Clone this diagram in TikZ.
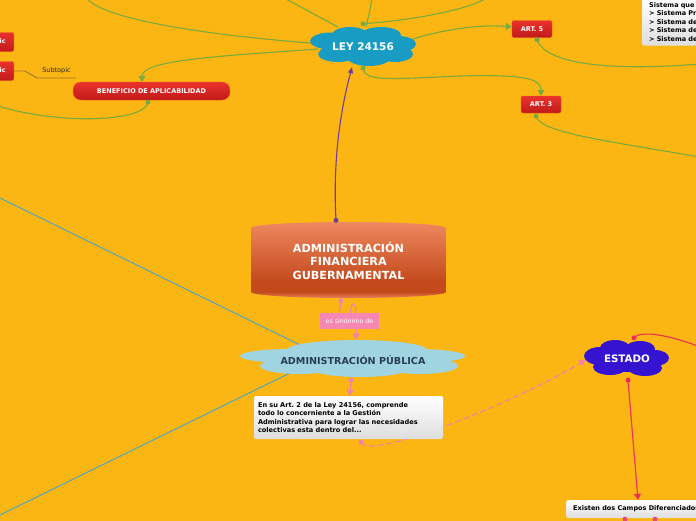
\documentclass[tikz,border=0pt]{standalone}
\usepackage{fontspec}
\setmainfont{DejaVu Sans}
\frenchspacing
\usetikzlibrary{arrows.meta,calc}
\definecolor{bgc}{RGB}{251,182,20}
\definecolor{grnc}{RGB}{122,170,60}
\definecolor{leyc}{RGB}{24,156,196}
\definecolor{apc}{RGB}{160,212,225}
\definecolor{aptext}{RGB}{40,62,82}
\definecolor{estc}{RGB}{52,20,208}
\definecolor{redtop}{RGB}{234,50,44}
\definecolor{redbot}{RGB}{192,26,26}
\definecolor{redrim}{RGB}{240,80,40}
\definecolor{purpc}{RGB}{112,60,150}
\definecolor{pinkc}{RGB}{242,130,170}
\definecolor{pinklab}{RGB}{245,135,180}
\definecolor{redln}{RGB}{232,48,88}
\definecolor{tealc}{RGB}{80,165,185}
\definecolor{subc}{RGB}{160,118,40}
\definecolor{cyltop}{RGB}{238,136,96}
\definecolor{cyldk}{RGB}{196,74,28}
\definecolor{cylrim}{RGB}{234,128,92}
\definecolor{boxbot}{RGB}{222,222,222}
\pgfdeclarelayer{bglayer}
\pgfdeclarelayer{lines}
\pgfsetlayers{bglayer,lines,main}
\pgfdeclareverticalshading{cylshade}{100bp}{color(0bp)=(cylrim); color(25bp)=(cylrim); color(29bp)=(cyldk); color(36bp)=(cyldk); color(75bp)=(cyltop); color(100bp)=(cyltop)}
\tikzset{
  grn/.style={draw=grnc, line width=1.1pt},
  tip/.style={-{Triangle[length=6pt,width=7pt]}},
  redbox/.style={rounded corners=2pt, top color=redtop, bottom color=redbot, draw=redrim, line width=0.4pt, text=white, font=\fontsize{6.5}{7.5}\selectfont\bfseries, inner sep=2pt},
  whitebox/.style={rounded corners=2pt, top color=white, bottom color=boxbot, text=black, font=\fontsize{6.6}{8.4}\selectfont\bfseries, inner sep=4pt, align=left},
  cloudlabel/.style={inner sep=0pt},
  ldot/.style={circle, inner sep=0pt, minimum size=5pt}
}
\begin{document}
\begin{tikzpicture}[x=1pt,y=-1pt]
\useasboundingbox (0,0) rectangle (696,520);
\clip (0,0) rectangle (696,520);
\begin{pgfonlayer}{bglayer}
\fill[bgc] (-5,-5) rectangle (701,525);
\end{pgfonlayer}

% cylinder
\shade[shading=cylshade] (251,228) -- (251,292) arc[start angle=180,end angle=360,x radius=97.5pt,y radius=6pt] -- (446,228) arc[start angle=0,end angle=180,x radius=97.5pt,y radius=6pt] -- cycle;
\node[text=white, align=center, font=\fontsize{11.2}{13.5}\selectfont\bfseries, minimum width=195pt, minimum height=76pt, inner sep=0pt] (afg) at (348.5,260.5) {ADMINISTRACIÓN\\FINANCIERA\\GUBERNAMENTAL};

% LEY cloud
\fill[leyc] (363,47) ellipse[x radius=40pt, y radius=14pt]
  (331,41) ellipse[x radius=21pt, y radius=8.5pt]
  (350,35) ellipse[x radius=18pt, y radius=8pt]
  (381,35) ellipse[x radius=20pt, y radius=8pt]
  (398,44) ellipse[x radius=18pt, y radius=8pt]
  (338,54) ellipse[x radius=20pt, y radius=8pt]
  (369,57) ellipse[x radius=22pt, y radius=9pt]
  (395,54) ellipse[x radius=18pt, y radius=8pt];
\node[cloudlabel, text=white, minimum width=106pt, minimum height=40pt, font=\fontsize{10.5}{12}\selectfont\bfseries] (ley) at (363,47) {LEY 24156};

% ADMINISTRACION PUBLICA cloud
\fill[apc] (355,360) ellipse[x radius=90pt, y radius=12pt]
  (357,350) ellipse[x radius=70pt, y radius=10pt]
  (290,356) ellipse[x radius=50pt, y radius=7pt]
  (415,356) ellipse[x radius=50pt, y radius=7pt]
  (300,366) ellipse[x radius=40pt, y radius=8pt]
  (360,368) ellipse[x radius=50pt, y radius=9pt]
  (420,366) ellipse[x radius=38pt, y radius=8pt];
\node[cloudlabel, text=aptext, minimum width=225pt, minimum height=38pt, font=\fontsize{9.6}{11}\selectfont\bfseries] (ap) at (353,360) {ADMINISTRACIÓN PÚBLICA};

% ESTADO cloud
\fill[estc] (627,359) ellipse[x radius=32pt, y radius=13pt]
  (600,356) ellipse[x radius=16pt, y radius=9pt]
  (615,348) ellipse[x radius=15pt, y radius=8pt]
  (640,349) ellipse[x radius=15pt, y radius=8pt]
  (655,358) ellipse[x radius=14pt, y radius=8pt]
  (610,367) ellipse[x radius=17pt, y radius=8pt]
  (645,368) ellipse[x radius=17pt, y radius=8pt];
\node[cloudlabel, text=white, minimum width=85pt, minimum height=38pt, font=\fontsize{10.3}{12}\selectfont\bfseries] (est) at (627,359) {ESTADO};

% boxes
\node[redbox, minimum width=40pt, minimum height=17pt] (art5) at (532,29) {ART. 5};
\node[redbox, minimum width=40pt, minimum height=17pt] (art3) at (541,104.5) {ART. 3};
\node[redbox, rounded corners=8pt, minimum width=157pt, minimum height=18pt] (benef) at (151.5,91) {BENEFICIO DE APLICABILIDAD};
\node[redbox, anchor=east, minimum height=19pt, inner xsep=8pt] (t1) at (14,42) {Topic};
\node[redbox, anchor=east, minimum height=19pt, inner xsep=8pt] (t2) at (14,71) {Topic};
\node[text=black!85, font=\fontsize{6.5}{7.5}\selectfont, inner sep=1pt] (sub) at (56.5,70.5) {Subtopic};
\node[whitebox, anchor=north west, text width=120pt, font=\fontsize{6.5}{8.5}\selectfont\bfseries, inner xsep=7pt, inner ysep=4.5pt] (sis) at (642,-2.5) {Sistema que integra:\\> Sistema Presupuestario\\> Sistema de Crédito Público\\> Sistema de Tesorería\\> Sistema de Contabilidad};
\node[fill=pinklab, text=white, font=\fontsize{6.3}{7}\selectfont, minimum width=59pt, minimum height=16pt, inner sep=1pt] (sin) at (349.5,321) {es sinónimo de};
\node[whitebox, minimum width=189pt, minimum height=43pt, text width=181pt] (art2) at (348.5,417.5) {En su Art. 2 de la Ley 24156, comprende\\todo lo concerniente a la Gestión\\Administrativa para lograr las necesidades\\colectivas esta dentro del...};
\node[whitebox, anchor=west, minimum height=18pt, font=\fontsize{6.5}{8}\selectfont\bfseries, inner xsep=7pt] (ex) at (566,509) {Existen dos Campos Diferenciados};

% free ends
\coordinate (eG1) at (372,-2);
\coordinate (eG2) at (487,-2);
\coordinate (eG3) at (87,-2);
\coordinate (eG4) at (284,-2);
\coordinate (eG8) at (700,64);
\coordinate (eG9) at (700,157);
\coordinate (eG10) at (-2,106);
\coordinate (eT1) at (-2,197);
\coordinate (eT2) at (-2,516);
\coordinate (eR1) at (700,347);

\begin{pgfonlayer}{lines}
% green connectors
\draw[grn] (eG1) .. controls (370,10) .. ($(ley.north)+(3,0)$);
\draw[grn] ($(ley.north)+(0,-3)$) .. controls (400,21) and (460,13) .. (eG2);
\draw[grn] (eG3) .. controls (100,18) and (200,35) .. ($(ley.center)+(-40,-3)$);
\draw[grn] (eG4) -- ($(ley.center)+(-25,-20)$);
\draw[grn,tip] ($(ley.center)+(-45,2)$) .. controls (220,56) and (142,60) .. ($(benef.north)+(-9.5,0)$);
\draw[grn,tip] ($(ley.center)+(47,-7)$) .. controls (440,30) and (480,24) .. ($(art5.west)+(0,-2)$);
\draw[grn,tip] ($(ley.south)+(0,1)$) .. controls (365,82) and (390,79) .. (460,76) .. controls (530,74) and (541,80) .. (art3.north);
\draw[grn] ($(art5.south)+(5,2)$) .. controls (545,62) and (600,72) .. (eG8);
\draw[grn] ($(art3.south)+(-5,3)$) .. controls (540,132) and (600,140) .. (eG9);
\draw[grn] ($(benef.south)+(-3.5,2)$) .. controls (145,122) and (60,125) .. (eG10);
% subtopic
\draw[subc, line width=0.9pt] (t2.east) -- +(11,0) -- +(23,7) -- +(62,7);
% teal
\draw[tealc, line width=1pt] (eT1) -- ($(ap.center)+(-53,-15)$);
\draw[tealc, line width=1pt] (eT2) -- ($(ap.center)+(-63,13)$);
% purple
\draw[purpc, line width=1.1pt, -{Triangle[length=6pt,width=5pt]}] ($(afg.north)+(-12.5,-2)$) .. controls +(-4,-70) and +(-8,30) .. ($(ley.south)+(-11,0)$);
% pink
\draw[pinkc, line width=1.1pt] ($(afg.south)+(-7.5,2)$) -- ($(sin.north)+(-10,0)$);
\draw[pinkc, line width=1.1pt, tip] ($(sin.north)+(1,0)$) .. controls (351,298) and (358,298) .. ($(ap.north)+(3,-1)$);
\draw[pinkc, line width=1.1pt, tip] ($(ap.south)+(-2,1)$) -- ($(art2.north)+(1.5,0)$);
\draw[pinkc, line width=1.1pt, dash pattern=on 6pt off 3pt, tip] ($(art2.south)+(12.5,3)$) .. controls (368,462) and (520,400) .. ($(est.west)+(1,1)$);
% red
\draw[redln, line width=1.1pt] ($(est.north)+(7,-2)$) .. controls (640,330) and (670,335) .. (eR1);
\draw[redln, line width=1.1pt, tip] ($(est.south)+(1,2)$) -- ($(ex.north west)+(72,0)$);
\draw[redln!70!pinkc, line width=1.1pt] ($(ex.south west)+(59,0)$) -- +(0,6);
\draw[redln!70!pinkc, line width=1.1pt] ($(ex.south west)+(89,0)$) -- +(0,6);
\end{pgfonlayer}

% dots
\node[ldot, fill=grnc] at ($(ley.north)+(0,-3)$) {};
\node[ldot, fill=grnc] at ($(ley.south)+(0,1)$) {};
\node[ldot, fill=grnc] at ($(art5.south)+(5,2)$) {};
\node[ldot, fill=grnc] at ($(art3.south)+(-5,3)$) {};
\node[ldot, fill=grnc] at ($(benef.south)+(-3.5,2)$) {};
\node[ldot, fill=purpc] at ($(afg.north)+(-12.5,-2)$) {};
\node[ldot, fill=pinkc] at ($(afg.south)+(-7.5,2)$) {};
\node[ldot, fill=pinkc] at ($(ap.south)+(-2,1)$) {};
\node[ldot, fill=pinkc] at ($(art2.south)+(12.5,3)$) {};
\node[ldot, fill=redln] at ($(est.north)+(7,-2)$) {};
\node[ldot, fill=redln] at ($(est.south)+(1,2)$) {};
\node[ldot, fill=redln!70!pinkc] at ($(ex.south west)+(59,1)$) {};
\node[ldot, fill=redln!70!pinkc] at ($(ex.south west)+(89,1)$) {};
\end{tikzpicture}
\end{document}
